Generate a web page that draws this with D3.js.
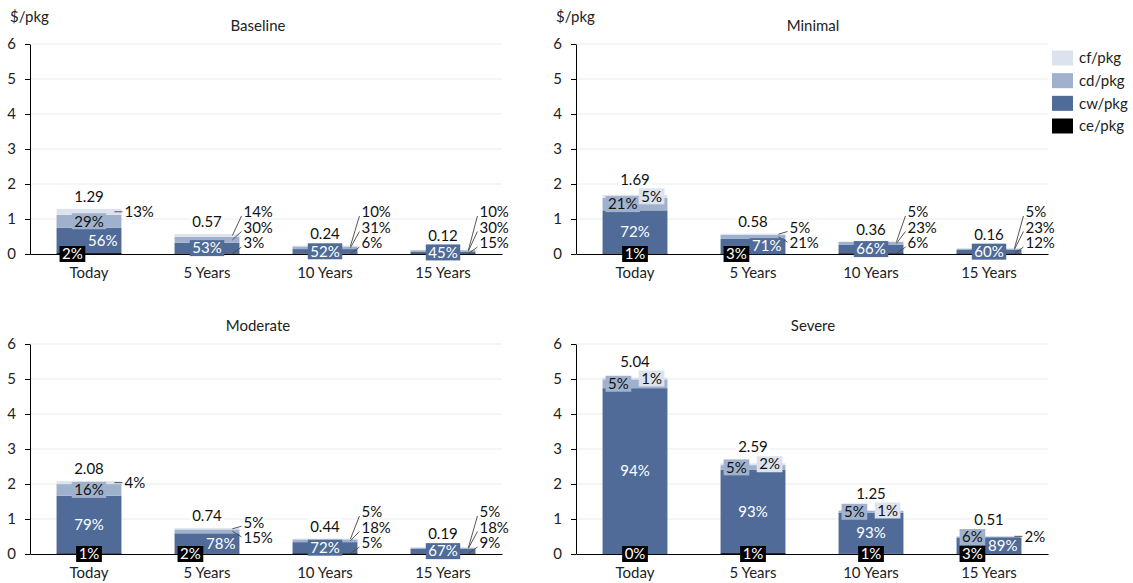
<!DOCTYPE html>
<html><head><meta charset="utf-8">
<script src="https://cdn.jsdelivr.net/npm/d3@7"></script>
<style>
body{margin:0;background:#fff}
text{font-family:Lato,"Open Sans",sans-serif;font-size:15px;}
</style>
</head><body>
<svg id="c" width="1133" height="583"></svg>
<script>
const categories = ["Today","5 Years","10 Years","15 Years"];
const seriesKeys = ["ce","cw","cd","cf"];             // bottom to top
const seriesNames = ["ce/pkg","cw/pkg","cd/pkg","cf/pkg"];
const scenarios = ["Baseline","Minimal","Moderate","Severe"];
const yTicks = [0,1,2,3,4,5,6];
const unitLabel = "$/pkg";

const totalsBaseline = [1.29,0.57,0.24,0.12];
const totalsMinimal  = [1.69,0.58,0.36,0.16];
const totalsModerate = [2.08,0.74,0.44,0.19];
const totalsSevere   = [5.04,2.59,1.25,0.51];

// shares in % per category, order: ce, cw, cd, cf
const sharesBaseline = [[2,56,29,13],[3,53,30,14],[6,52,31,10],[15,45,30,10]];
const sharesMinimal  = [[1,72,21,5],[3,71,21,5],[6,66,23,5],[12,60,23,5]];
const sharesModerate = [[1,79,16,4],[2,78,15,5],[5,72,18,5],[9,67,18,5]];
const sharesSevere   = [[0,94,5,1],[1,93,5,2],[1,93,5,1],[3,89,6,2]];

const colors = {ce:"#000000", cw:"#506b98", cd:"#9fb1cc", cf:"#dde3ee"};
const textOn = {ce:"#ffffff", cw:"#ffffff", cd:"#111111", cf:"#111111"};

// label placement hints (corner labels inside the bar top)
const cornerHints = {"Minimal|0":["cd","cf"],"Severe|0":["cd","cf"],"Severe|1":["cd","cf"],"Severe|2":["cd","cf"],"Severe|3":["cd"]};

const panels = [
  {name:scenarios[0], totals:totalsBaseline, shares:sharesBaseline, ax:30,  zero:254, unit:true,  tx:258},
  {name:scenarios[1], totals:totalsMinimal,  shares:sharesMinimal,  ax:576, zero:254, unit:true,  tx:813},
  {name:scenarios[2], totals:totalsModerate, shares:sharesModerate, ax:30,  zero:554, unit:false, tx:258},
  {name:scenarios[3], totals:totalsSevere,   shares:sharesSevere,   ax:576, zero:554, unit:false, tx:813}
];

const svg = d3.select("#c");
const W = 472, H = 210, LH = 15.5, BH = 16;

function stackLayout(items, maxBottom){
  const clusters = items.map(it => ({items:[it]}));
  const place = c => {
    const n = c.items.length;
    let s = d3.mean(c.items, (it,k) => it.ideal - k*LH);
    s = Math.min(s, maxBottom - (n-1)*LH);
    c.start = s;
  };
  clusters.forEach(place);
  let merged = true;
  while (merged){
    merged = false;
    for (let i=0;i<clusters.length-1;i++){
      const a = clusters[i], b = clusters[i+1];
      if (a.start + a.items.length*LH > b.start + 0.01){
        a.items = a.items.concat(b.items); place(a); clusters.splice(i+1,1); merged = true; break;
      }
    }
  }
  clusters.forEach(c => c.items.forEach((it,k) => it.y = c.start + k*LH));
}

function drawLabel(layer, txt, x, y, anchor, fill, boxFill){
  const grp = layer.append("g");
  const t = grp.append("text").attr("x",x).attr("y",y).attr("dy","0.35em")
    .attr("text-anchor",anchor).attr("fill",fill).text(txt);
  if (boxFill){
    const w = t.node().getComputedTextLength();
    const left = anchor==="start" ? x : anchor==="end" ? x - w : x - w/2;
    grp.insert("rect","text").attr("x",left-2.5).attr("y",y-BH/2).attr("width",w+5).attr("height",BH).attr("fill",boxFill);
  }
  return grp;
}

panels.forEach(p => {
  const g = svg.append("g");
  const x = d3.scaleBand(categories,[p.ax,p.ax+W]).paddingInner(0.45).paddingOuter(0.225);
  const y = d3.scaleLinear([0,6],[p.zero,p.zero-H]);

  // gridlines
  g.append("g").selectAll("line").data(yTicks.slice(1)).join("line")
    .attr("x1",p.ax).attr("x2",p.ax+W).attr("y1",d=>y(d)).attr("y2",d=>y(d))
    .attr("stroke","#ebebeb").attr("stroke-width",1);

  // data table & stack
  const rows = categories.map((c,i) => {
    const sh = p.shares[i], sum = d3.sum(sh), r = {cat:c};
    seriesKeys.forEach((k,j) => r[k] = p.totals[i]*sh[j]/sum);
    return r;
  });
  const stacked = d3.stack().keys(seriesKeys)(rows);

  g.append("g").selectAll("g").data(stacked).join("g").attr("fill",d=>colors[d.key])
    .selectAll("rect").data(d=>d).join("rect")
    .attr("x",d=>x(d.data.cat)).attr("width",x.bandwidth())
    .attr("y",d=>y(d[1])).attr("height",d=>Math.max(0,y(d[0])-y(d[1])));

  // y axis
  const ya = g.append("g").attr("transform",`translate(${p.ax},0)`)
    .call(d3.axisLeft(y).tickValues(yTicks).tickSize(5).tickSizeOuter(0).tickPadding(9).tickFormat(d3.format("d")));
  ya.select(".domain").attr("stroke","#000");
  ya.selectAll(".tick line").attr("stroke","#000");
  ya.selectAll("text").attr("font-size",15).attr("font-family",null).attr("fill","#222");

  // x axis
  const xa = g.append("g").attr("transform",`translate(0,${p.zero})`)
    .call(d3.axisBottom(x).tickSize(0).tickSizeOuter(0).tickPadding(13));
  xa.select(".domain").attr("stroke","#000").attr("stroke-width",1.2);
  xa.selectAll("text").attr("font-size",15).attr("font-family",null).attr("fill","#222");

  // title & unit
  g.append("text").attr("x",p.tx).attr("y",p.zero-H-18).attr("dy","0.35em").attr("text-anchor","middle").attr("fill","#222").text(p.name);
  if (p.unit) g.append("text").attr("x",p.ax-20).attr("y",17).attr("dy","0.35em").attr("fill","#222").text(unitLabel);

  // labels
  const lineLayer = g.append("g");
  const labLayer = g.append("g");
  categories.forEach((c,i) => {
    const bl = x(c), br = bl + x.bandwidth(), cx = bl + x.bandwidth()/2;
    const seg = {};
    stacked.forEach((s,j) => {
      const d = s[i];
      seg[s.key] = {key:s.key, top:y(d[1]), bot:y(d[0]), mid:(y(d[0])+y(d[1]))/2, h:y(d[0])-y(d[1]), pct:p.shares[i][j]};
    });
    const hints = cornerHints[p.name+"|"+i] || [];
    const inside = [], outsideKeys = [];
    let tiny = false;
    if (seg.cw.h < 13){
      tiny = true;
      inside.push({k:"cw", x:cx, a:"middle", y:seg.cw.mid});
      outsideKeys.push("cf","cd","ce");
    } else {
      if (seg.cw.h >= 30){
        inside.push({k:"cw", x:cx, a:"middle", y:seg.cw.mid});
        inside.push({k:"ce", x:cx, a:"middle", y:p.zero});
      } else {
        inside.push({k:"cw", x:br-4, a:"end", y:seg.cw.mid});
        inside.push({k:"ce", x:bl+5.5, a:"start", y:p.zero});
      }
      const ob = [];
      if (hints.includes("cd")) inside.push({k:"cd", x:bl+5.5, a:"start", y:seg.cd.mid});
      else if (seg.cd.h >= 11) inside.push({k:"cd", x:cx, a:"middle", y:seg.cd.mid});
      else ob.push("cd");
      if (hints.includes("cf")) inside.push({k:"cf", x:br-5.5, a:"end", y:seg.cf.mid});
      else if (seg.cf.h >= 11) inside.push({k:"cf", x:cx, a:"middle", y:seg.cf.mid});
      else ob.unshift("cf");
      outsideKeys.push(...ob);
    }
    let boxTop = Infinity;
    inside.forEach(l => {
      drawLabel(labLayer, seg[l.k].pct+"%", l.x, l.y, l.a, textOn[l.k], colors[l.k]);
      if (l.k==="cd"||l.k==="cf"||(tiny && l.k==="cw")) boxTop = Math.min(boxTop, l.y-BH/2);
    });
    // outside labels
    const items = outsideKeys.map(k => ({k, ideal:seg[k].mid}));
    stackLayout(items, p.zero-11);
    items.forEach(it => {
      let tx;
      if (Math.abs(it.y - it.ideal) < 1.5){
        lineLayer.append("line").attr("x1",br-7).attr("x2",br+1).attr("y1",it.ideal).attr("y2",it.ideal)
          .attr("stroke","#444").attr("stroke-width",0.9);
        tx = br+3;
      } else {
        lineLayer.append("line").attr("x1",br-7).attr("y1",it.ideal).attr("x2",br+2)
          .attr("y2",it.y + (it.ideal > it.y ? 4 : -1)).attr("stroke","#444").attr("stroke-width",0.9);
        tx = br+4;
      }
      drawLabel(labLayer, seg[it.k].pct+"%", tx, it.y, "start", "#111", null);
    });
    // total label
    const ty = Math.min(seg.cf.top - 12, boxTop - 9);
    drawLabel(labLayer, d3.format(".2f")(p.totals[i]), cx, ty, "middle", "#111", "#ffffff");
  });
});

// legend
const lg = svg.append("g");
const legendOrder = seriesKeys.slice().reverse();
const legendNames = seriesNames.slice().reverse();
const ly = d3.scalePoint(legendOrder,[58,126]);
lg.selectAll("rect").data(legendOrder).join("rect")
  .attr("x",1052).attr("y",d=>ly(d)-7.5).attr("width",21).attr("height",15).attr("fill",d=>colors[d]);
lg.selectAll("text").data(legendOrder).join("text")
  .attr("x",1079).attr("y",d=>ly(d)).attr("dy","0.35em").attr("fill","#222")
  .text((d,i)=>legendNames[i]);
</script>
</body></html>
